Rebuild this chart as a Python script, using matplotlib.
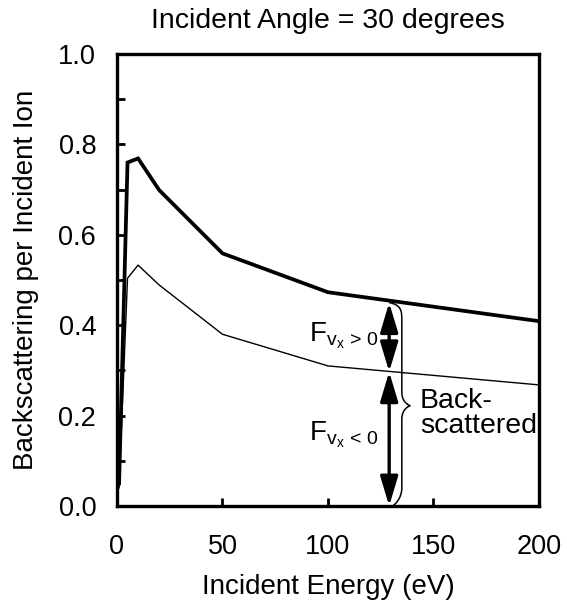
import numpy as np
import matplotlib
matplotlib.use("Agg")
import matplotlib.pyplot as plt
from matplotlib.path import Path
from matplotlib.patches import PathPatch, FancyArrowPatch

plt.rcParams["font.family"] = ["Liberation Sans", "DejaVu Sans"]
plt.rcParams["mathtext.fontset"] = "custom"
plt.rcParams["mathtext.rm"] = "Liberation Sans"
plt.rcParams["mathtext.it"] = "Liberation Sans:italic"

# ---------------------------------------------------------------------------
# Data
# ---------------------------------------------------------------------------
energy = [1, 5, 10, 20, 50, 100, 200]
total = [0.05, 0.760, 0.769, 0.699, 0.559, 0.473, 0.409]      # thick curve
forward = [0.04, 0.504, 0.533, 0.489, 0.380, 0.310, 0.268]    # thin curve

arrow_e = 129          # energy where the split arrows are drawn
arrow_top = 0.450      # total curve at arrow_e
arrow_mid = 0.297      # thin curve at arrow_e

xticks = [0, 50, 100, 150, 200]
yticks = [0.0, 0.2, 0.4, 0.6, 0.8, 1.0]

# ---------------------------------------------------------------------------
fig = plt.figure(figsize=(5.67, 6.05), dpi=100)
ax = fig.add_axes([0.2063, 0.1636, 0.7443, 0.7471])

ax.plot(energy, total, color="black", linewidth=2.7, solid_joinstyle="miter")
ax.plot(energy, forward, color="black", linewidth=1.0)

ax.set_xlim(0, 200)
ax.set_ylim(0, 1.0)
ax.set_xticks(xticks)
ax.set_xticklabels([f"{v}" for v in xticks])
ax.set_yticks(yticks)
ax.set_yticklabels([f"{v:.1f}" for v in yticks])
ax.set_yticks(np.arange(0.1, 1.0, 0.2), minor=True)

for s in ax.spines.values():
    s.set_linewidth(2.4)
ax.tick_params(which="both", direction="in", length=6, width=2.0,
               labelsize=19.5, top=False, right=False)
ax.tick_params(axis="x", pad=20)
ax.tick_params(axis="y", pad=15)

ax.set_xlabel("Incident Energy (eV)", fontsize=20, labelpad=10)
ax.set_ylabel("Backscattering per Incident Ion", fontsize=20, labelpad=14)
ax.set_title("Incident Angle = 30 degrees", fontsize=20.5, pad=19)

# --- double arrows -----------------------------------------------------------
for y0, y1 in [(arrow_top, arrow_mid), (arrow_mid, 0.0)]:
    arr = FancyArrowPatch((arrow_e, y0), (arrow_e, y1),
                          arrowstyle="<|-|>,head_length=1.0,head_width=0.3",
                          mutation_scale=18, linewidth=2.4, color="black",
                          shrinkA=0, shrinkB=0, clip_on=False)
    ax.add_patch(arr)

ax.text(arrow_e - 5, (arrow_top + arrow_mid) / 2 - 0.010,
        r"$\mathrm{F}_{\mathrm{v}_\mathrm{x}\,>\,0}$",
        fontsize=20, ha="right", va="baseline")
ax.text(arrow_e - 5, (arrow_mid + 0.0) / 2 - 0.003,
        r"$\mathrm{F}_{\mathrm{v}_\mathrm{x}\,<\,0}$",
        fontsize=20, ha="right", va="baseline")

# --- curly brace -------------------------------------------------------------
bx0 = arrow_e
bx1 = arrow_e + 6
bx2 = arrow_e + 10
ytop, ybot = arrow_top, 0.0
ytip = 0.222
verts = [
    (bx0, ytop),
    (bx1, ytop - 0.005), (bx1, ytop - 0.02), (bx1, ytop - 0.04),
    (bx1, ytip + 0.03),
    (bx1, ytip + 0.005), (bx2, ytip), (bx2, ytip),
    (bx2, ytip), (bx1, ytip - 0.005), (bx1, ytip - 0.03),
    (bx1, ybot + 0.04),
    (bx1, ybot + 0.015), (bx0 + 2, ybot), (bx0 + 1.5, ybot),
]
codes = [Path.MOVETO,
         Path.CURVE4, Path.CURVE4, Path.CURVE4,
         Path.LINETO,
         Path.CURVE4, Path.CURVE4, Path.CURVE4,
         Path.CURVE4, Path.CURVE4, Path.CURVE4,
         Path.LINETO,
         Path.CURVE4, Path.CURVE4, Path.CURVE4]
ax.add_patch(PathPatch(Path(verts, codes), facecolor="none",
                       edgecolor="black", linewidth=1.1, clip_on=False))

ax.text(bx2 + 4.5, ytip - 0.018, "Back-\nscattered", fontsize=20.5,
        ha="left", va="center", linespacing=0.95)

fig.savefig("out.png", dpi=100, facecolor="white")
